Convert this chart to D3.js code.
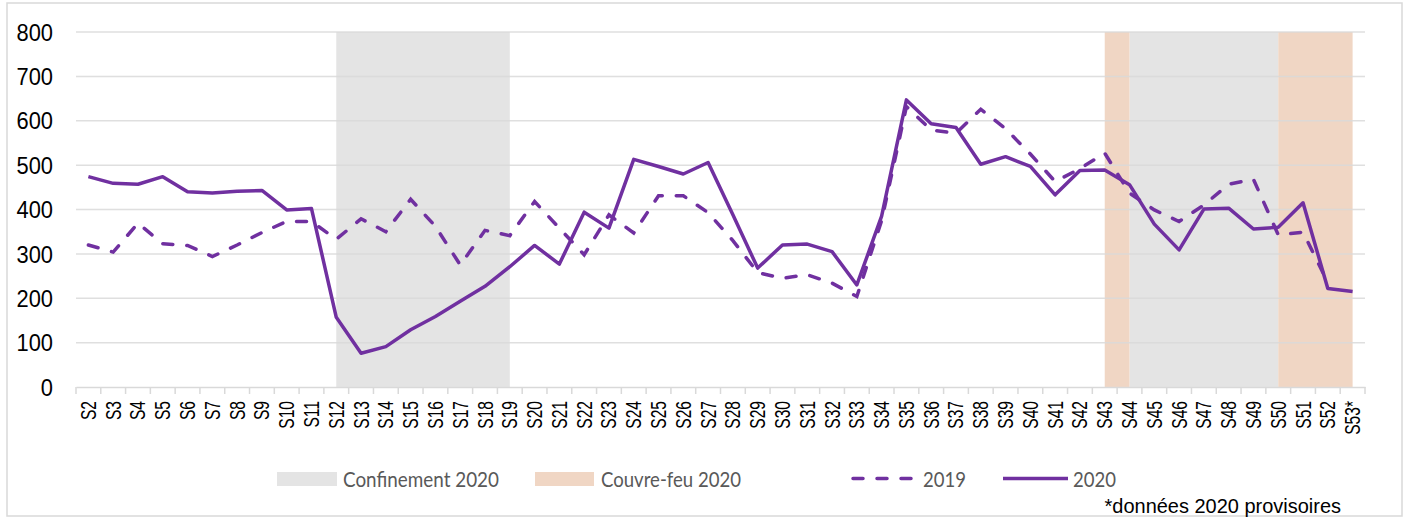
<!DOCTYPE html>
<html>
<head>
<meta charset="utf-8">
<script src="https://cdn.jsdelivr.net/npm/d3@7"></script>
<style>
  html, body { margin: 0; padding: 0; background: #fff; }
  svg { display: block; }
</style>
</head>
<body>
<div id="chart"></div>
<script>
// weeks on the x axis
const weeks = ['S2','S3','S4','S5','S6','S7','S8','S9','S10','S11','S12','S13','S14','S15','S16','S17','S18','S19',
  'S20','S21','S22','S23','S24','S25','S26','S27','S28','S29','S30','S31','S32','S33','S34','S35','S36','S37',
  'S38','S39','S40','S41','S42','S43','S44','S45','S46','S47','S48','S49','S50','S51','S52','S53*'];

const values2019 = [320,304,369,323,319,294,320,348,373,373,333,379,350,423,362,275,353,341,418,358,
  298,388,347,431,431,393,330,258,245,253,234,204,375,632,579,572,626,582,525,463,
  492,527,437,399,373,410,457,468,343,349,235,null];

const values2020 = [474,459,457,474,440,437,441,443,399,402,157,76,91,129,159,193,227,271,319,277,
  394,358,513,497,480,506,388,268,320,322,305,230,385,647,593,585,502,519,497,433,
  488,489,456,367,309,401,403,356,360,415,222,215];

const yTicks = [0,100,200,300,400,500,600,700,800];

// shaded periods (from week, to week)
const confinement = [['S12','S19'], ['S44','S50']];
const couvreFeu = [['S43','S44'], ['S50','S53*']];

const W = 1407, H = 520;
const purple = '#7030a0';
const greyFill = '#e4e4e4';
const peachFill = '#f0d6c4';
const gridColor = '#d9d9d9';
const SX = 1.16;   // horizontal stretch of the original picture
const NARROW = 0.82; // Arial Narrow vs Arial width
const axisFont = '"Liberation Sans", Arial, sans-serif';

const svg = d3.select('#chart').append('svg')
  .attr('width', W).attr('height', H);

// outer border
svg.append('rect')
  .attr('x', 7).attr('y', 3).attr('width', 1395).attr('height', 513)
  .attr('fill', '#fff').attr('stroke', gridColor).attr('stroke-width', 1.5);

const x = d3.scaleBand().domain(weeks).range([76, 1365]).padding(0);
const cx = d => x(d) + x.bandwidth() / 2;
const y = d3.scaleLinear().domain([0, 800]).range([387, 32]);

// shaded areas
function drawPeriods(list, color) {
  svg.append('g').selectAll('rect')
    .data(list)
    .enter()
    .append('rect')
    .attr('x', d => cx(d[0]))
    .attr('width', d => cx(d[1]) - cx(d[0]))
    .attr('y', y(800))
    .attr('height', y(0) - y(800))
    .attr('fill', color);
}
drawPeriods(confinement, greyFill);
drawPeriods(couvreFeu, peachFill);

// grid lines
svg.append('g')
  .selectAll('line')
  .data(yTicks.filter(d => d > 0))
  .enter()
  .append('line')
  .attr('x1', 76).attr('x2', 1365)
  .attr('y1', d => y(d)).attr('y2', d => y(d))
  .attr('stroke', gridColor)
  .attr('stroke-opacity', 0.85)
  .attr('stroke-width', 1.5);

// x axis
const xAxis = svg.append('g')
  .attr('transform', `translate(0, ${y(0)})`)
  .call(d3.axisBottom(x).tickSize(0).tickFormat(''));
xAxis.select('.domain').attr('stroke', gridColor).attr('stroke-width', 1.5);
xAxis.selectAll('.tick').remove();

const boundaries = weeks.map(w => x(w)).concat([x.range()[1]]);
svg.append('g')
  .selectAll('line')
  .data(boundaries)
  .enter()
  .append('line')
  .attr('x1', d => d).attr('x2', d => d)
  .attr('y1', y(0)).attr('y2', y(0) + 7)
  .attr('stroke', gridColor)
  .attr('stroke-width', 1.5);

svg.append('g')
  .selectAll('text')
  .data(weeks)
  .enter()
  .append('text')
  .attr('transform', d => `translate(${cx(d)}, 401) scale(${SX},1) rotate(-90) scale(${NARROW},1)`)
  .attr('text-anchor', 'end')
  .attr('dominant-baseline', 'central')
  .style('font-family', axisFont)
  .style('font-size', '19px')
  .style('fill', '#000')
  .text(d => d);

// y labels
svg.append('g')
  .selectAll('text')
  .data(yTicks)
  .enter()
  .append('text')
  .attr('transform', d => `translate(53, ${y(d) + 1}) scale(${SX * NARROW},1)`)
  .attr('text-anchor', 'end')
  .attr('dominant-baseline', 'central')
  .style('font-family', axisFont)
  .style('font-size', '23px')
  .style('fill', '#000')
  .text(d => d);

// lines
const line = d3.line()
  .defined(d => d.v != null)
  .x(d => cx(d.w))
  .y(d => y(d.v));

svg.append('path')
  .datum(weeks.map((w, i) => ({ w, v: values2019[i] })))
  .attr('d', line)
  .attr('fill', 'none')
  .attr('stroke', purple)
  .attr('stroke-width', 3.5)
  .attr('stroke-linecap', 'round')
  .attr('stroke-dasharray', '10,14');

svg.append('path')
  .datum(weeks.map((w, i) => ({ w, v: values2020[i] })))
  .attr('d', line)
  .attr('fill', 'none')
  .attr('stroke', purple)
  .attr('stroke-width', 3.5)
  .attr('stroke-linejoin', 'round');

// legend
const legendFont = 'Lato, "Open Sans", sans-serif';
const legend = svg.append('g');
const legendY = 478.5;

legend.append('rect').attr('x', 277).attr('y', 472).attr('width', 60).attr('height', 14).attr('fill', greyFill);
legend.append('rect').attr('x', 535).attr('y', 472).attr('width', 59).attr('height', 14).attr('fill', peachFill);
legend.append('line').attr('x1', 853).attr('x2', 915).attr('y1', legendY).attr('y2', legendY)
  .attr('stroke', purple).attr('stroke-width', 3.5).attr('stroke-linecap', 'round').attr('stroke-dasharray', '10,14');
legend.append('line').attr('x1', 1003).attr('x2', 1068).attr('y1', legendY).attr('y2', legendY)
  .attr('stroke', purple).attr('stroke-width', 3.5);

const legendItems = [
  { label: 'Confinement 2020', x: 343, len: 156 },
  { label: 'Couvre-feu 2020', x: 601, len: 140 },
  { label: '2019', x: 923, len: 43 },
  { label: '2020', x: 1073, len: 43 }
];
legend.selectAll('text.lg')
  .data(legendItems)
  .enter()
  .append('text')
  .attr('class', 'lg')
  .attr('x', d => d.x)
  .attr('y', legendY)
  .attr('dominant-baseline', 'central')
  .attr('textLength', d => d.len)
  .attr('lengthAdjust', 'spacingAndGlyphs')
  .style('font-family', legendFont)
  .style('font-size', '22px')
  .style('fill', '#595959')
  .text(d => d.label);

// footnote
svg.append('text')
  .attr('transform', `translate(1341, 513) scale(${SX * NARROW},1)`)
  .attr('text-anchor', 'end')
  .style('font-family', axisFont)
  .style('font-size', '21px')
  .style('fill', '#000')
  .text('*données 2020 provisoires');
</script>
</body>
</html>
